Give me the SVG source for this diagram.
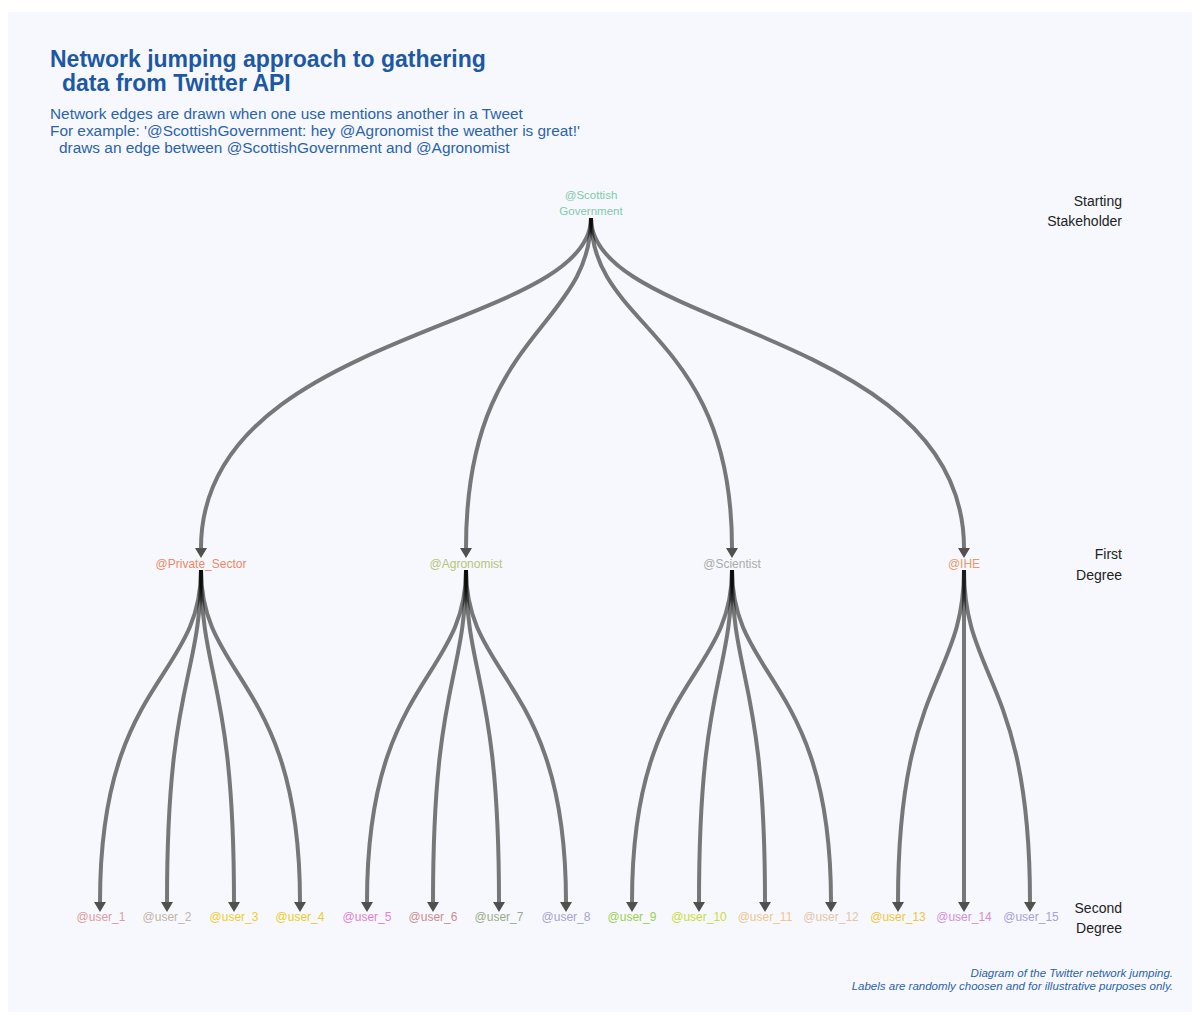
<svg xmlns="http://www.w3.org/2000/svg" width="1200" height="1016" viewBox="0 0 1200 1016">
<defs>
<style>
.t{font-family:"Liberation Sans",Arial,sans-serif}
.title{font-size:23px;font-weight:bold;fill:#1d58a4}
.sub{font-size:15.4px;fill:#2a63aa}
.side{font-size:14px;fill:#222;text-anchor:end}
.foot{font-size:11.5px;font-style:italic;fill:#2a63aa;text-anchor:end}
.lbl{font-size:12px;text-anchor:middle}
.edge{fill:none;stroke:#000;stroke-opacity:0.52;stroke-width:4;marker-end:url(#arr)}
</style>
<marker id="arr" viewBox="0 0 10 12" refX="0" refY="6" markerWidth="10" markerHeight="12" markerUnits="userSpaceOnUse" orient="auto">
<path d="M0,0 L10,6 L0,12 z" fill="#333" fill-opacity="0.85"/>
</marker>
</defs>
<rect x="0" y="0" width="1200" height="1016" fill="#ffffff"/>
<rect x="8" y="12" width="1184" height="1000" fill="#f7f8fd"/>

<g id="title" class="t">
<text class="title" x="50" y="67">Network jumping approach to gathering</text>
<text class="title" x="62" y="91">data from Twitter API</text>
<text class="sub" x="50" y="119">Network edges are drawn when one use mentions another in a Tweet</text>
<text class="sub" x="50" y="136">For example: '@ScottishGovernment: hey @Agronomist the weather is great!'</text>
<text class="sub" x="59" y="153">draws an edge between @ScottishGovernment and @Agronomist</text>
</g>

<g id="levels" class="t">
<text class="side" x="1122" y="206">Starting</text>
<text class="side" x="1122" y="226">Stakeholder</text>
<text class="side" x="1122" y="559">First</text>
<text class="side" x="1122" y="580">Degree</text>
<text class="side" x="1122" y="913">Second</text>
<text class="side" x="1122" y="933">Degree</text>
</g>

<g id="connectors">
<path class="edge" d="M591,218 C591,330 201,330 201,548"/>
<path class="edge" d="M591,218 C591,330 466,330 466,548"/>
<path class="edge" d="M591,218 C591,330 732,330 732,548"/>
<path class="edge" d="M591,218 C591,330 964,330 964,548"/>

<path class="edge" d="M201,570 C201,680 100,680 100,902"/>
<path class="edge" d="M201,570 C201,680 167,680 167,902"/>
<path class="edge" d="M201,570 C201,680 234,680 234,902"/>
<path class="edge" d="M201,570 C201,680 300,680 300,902"/>

<path class="edge" d="M466,570 C466,680 367,680 367,902"/>
<path class="edge" d="M466,570 C466,680 433,680 433,902"/>
<path class="edge" d="M466,570 C466,680 499,680 499,902"/>
<path class="edge" d="M466,570 C466,680 566,680 566,902"/>

<path class="edge" d="M732,570 C732,680 632,680 632,902"/>
<path class="edge" d="M732,570 C732,680 699,680 699,902"/>
<path class="edge" d="M732,570 C732,680 765,680 765,902"/>
<path class="edge" d="M732,570 C732,680 831,680 831,902"/>

<path class="edge" d="M964,570 C964,680 898,680 898,902"/>
<path class="edge" d="M964,570 L964,902"/>
<path class="edge" d="M964,570 C964,680 1030,680 1030,902"/>
</g>

<g id="node-scottish-government" class="t">
<text class="lbl" x="591" y="199" style="font-size:11.5px" fill="#82c9aa">@Scottish</text>
<text class="lbl" x="591" y="215" style="font-size:11.5px" fill="#82c9aa">Government</text>
</g>
<g id="node-private-sector" class="t"><text class="lbl" x="201" y="568" fill="#ee8866">@Private_Sector</text></g>
<g id="node-agronomist" class="t"><text class="lbl" x="466" y="568" fill="#b3c57a">@Agronomist</text></g>
<g id="node-scientist" class="t"><text class="lbl" x="732" y="568" fill="#aaaaaa">@Scientist</text></g>
<g id="node-ihe" class="t"><text class="lbl" x="964" y="568" fill="#e49a6a">@IHE</text></g>

<g id="node-user-1" class="t"><text class="lbl" x="101" y="921" fill="#dd9c9c">@user_1</text></g>
<g id="node-user-2" class="t"><text class="lbl" x="167" y="921" fill="#c4b4a6">@user_2</text></g>
<g id="node-user-3" class="t"><text class="lbl" x="234" y="921" fill="#f2cc2e">@user_3</text></g>
<g id="node-user-4" class="t"><text class="lbl" x="300" y="921" fill="#eccd22">@user_4</text></g>
<g id="node-user-5" class="t"><text class="lbl" x="367" y="921" fill="#e680cc">@user_5</text></g>
<g id="node-user-6" class="t"><text class="lbl" x="433" y="921" fill="#cc8e8e">@user_6</text></g>
<g id="node-user-7" class="t"><text class="lbl" x="499" y="921" fill="#99ae88">@user_7</text></g>
<g id="node-user-8" class="t"><text class="lbl" x="566" y="921" fill="#a6a3cf">@user_8</text></g>
<g id="node-user-9" class="t"><text class="lbl" x="632" y="921" fill="#98d24f">@user_9</text></g>
<g id="node-user-10" class="t"><text class="lbl" x="699" y="921" fill="#c9dc3a">@user_10</text></g>
<g id="node-user-11" class="t"><text class="lbl" x="765" y="921" fill="#efc68e">@user_11</text></g>
<g id="node-user-12" class="t"><text class="lbl" x="831" y="921" fill="#e6c6a6">@user_12</text></g>
<g id="node-user-13" class="t"><text class="lbl" x="898" y="921" fill="#f3c53b">@user_13</text></g>
<g id="node-user-14" class="t"><text class="lbl" x="964" y="921" fill="#d58fd9">@user_14</text></g>
<g id="node-user-15" class="t"><text class="lbl" x="1031" y="921" fill="#a9a1d9">@user_15</text></g>

<g id="footer" class="t">
<text class="foot" x="1173" y="977">Diagram of the Twitter network jumping.</text>
<text class="foot" x="1173" y="990">Labels are randomly choosen and for illustrative purposes only.</text>
</g>
</svg>
